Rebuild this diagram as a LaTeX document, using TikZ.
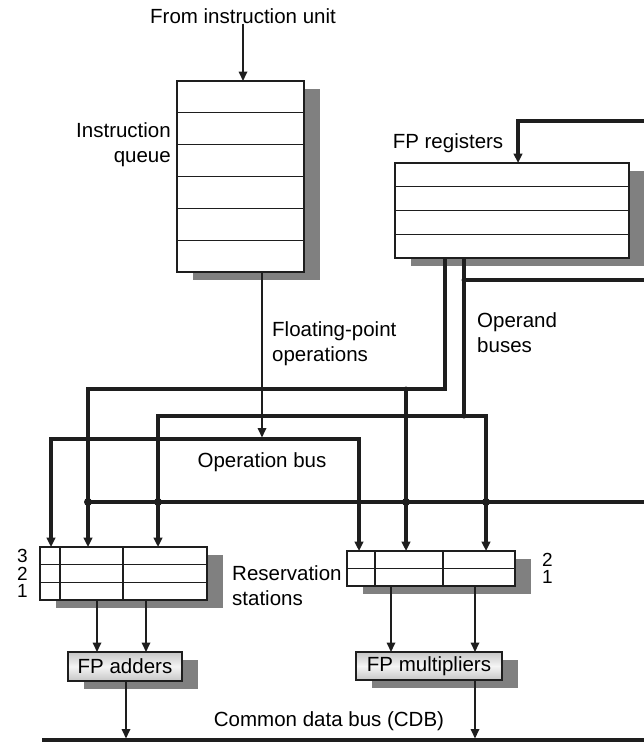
\documentclass[tikz,border=0pt]{standalone}
\usepackage{fontspec}
\setmainfont{Liberation Sans}
\usetikzlibrary{arrows.meta,calc,backgrounds}
\definecolor{ink}{HTML}{1E1E1E}
\definecolor{shadowc}{HTML}{808080}
\begin{document}
\begin{tikzpicture}[x=1pt,y=-1pt,
  font=\fontsize{20.5}{25}\selectfont,
  box/.style={draw=ink, line width=1.5pt, fill=white, inner sep=0pt, outer sep=0pt, anchor=north west},
  unitbox/.style={draw=ink, line width=1.5pt, inner sep=0pt, outer sep=0pt, anchor=north west,
     shading=axis, top color=gray!45, bottom color=gray!45, middle color=gray!8},
  rowline/.style={draw=ink, line width=1.3pt},
  bus/.style={draw=ink, line width=3.3pt},
  wire/.style={draw=ink, line width=1.7pt},
  tip/.style={-{Triangle[length=9.5pt,width=8.5pt]}},
  tips/.style={{Triangle[length=9.5pt,width=8.5pt]}-{Triangle[length=9.5pt,width=8.5pt]}},
  dot/.style={circle, fill=ink, inner sep=0pt, minimum size=8pt},
  knob/.style={circle, fill=ink, inner sep=0pt, minimum size=5pt},
  lbl/.style={inner sep=0pt, text=black},
  digit/.style={inner sep=0pt, text=black, font=\fontsize{19}{20}\selectfont}
]
\useasboundingbox (0,0) rectangle (644,742);

% boxes
\node[box, minimum width=127pt, minimum height=191pt] (iq) at (177,81) {};
\node[box, minimum width=234pt, minimum height=95pt] (fpr) at (395,163) {};
\node[box, minimum width=167pt, minimum height=53pt] (ars) at (40,547) {};
\node[box, minimum width=168pt, minimum height=35pt] (mrs) at (347,551) {};
\node[unitbox, minimum width=114pt, minimum height=29pt] (fpa) at (68,652) {FP adders};
\node[unitbox, minimum width=146pt, minimum height=28pt] (fpm) at (356,652) {FP multipliers};

\begin{scope}[on background layer]
  \foreach \n in {iq,fpr,ars,mrs,fpa,fpm}
    \fill[shadowc] ([shift={(16,8)}]\n.north west) rectangle ([shift={(16,8)}]\n.south east);
\end{scope}

% row and column lines
\foreach \k in {1,...,5}
  \draw[rowline] ($(iq.north west)!\k/6!(iq.south west)$) -- ($(iq.north east)!\k/6!(iq.south east)$);
\foreach \k in {1,2,3}
  \draw[rowline] ($(fpr.north west)!\k/4!(fpr.south west)$) -- ($(fpr.north east)!\k/4!(fpr.south east)$);
\foreach \k in {1,2}
  \draw[rowline] ($(ars.north west)!\k/3!(ars.south west)$) -- ($(ars.north east)!\k/3!(ars.south east)$);
\foreach \c in {20,83}
  \draw[rowline] ($(ars.north west)+(\c,0)$) -- ($(ars.south west)+(\c,0)$);
\draw[rowline] ($(mrs.north west)!0.5!(mrs.south west)$) -- ($(mrs.north east)!0.5!(mrs.south east)$);
\foreach \c in {28,96}
  \draw[rowline] ($(mrs.north west)+(\c,0)$) -- ($(mrs.south west)+(\c,0)$);

% labels
\node[lbl] (src) at (243,16) {From instruction unit};
\node[lbl, anchor=east, align=right] (iql) at (171,145) {Instruction\\queue};
\node[lbl] (fprl) at (448,143) {FP registers};
\node[lbl, anchor=west, align=left] (fpol) at (272,344) {Floating-point\\operations};
\node[lbl, anchor=west, align=left] (obl) at (477,333) {Operand\\buses};
\node[lbl] (opl) at (262,462) {Operation bus};
\node[lbl, anchor=west, align=left] (rsl) at (232,586) {Reservation\\stations};
\node[lbl] (cdbl) at (329,721) {Common data bus (CDB)};
\foreach \k/\t in {1/3,3/2,5/1}
  \node[digit, anchor=east] (ad\t) at ($(ars.north west)!\k/6!(ars.south west) + (-12,0)$) {\t};
\foreach \k/\t in {1/2,3/1}
  \node[digit, anchor=west] (md\t) at ($(mrs.north east)!\k/4!(mrs.south east) + (27,0)$) {\t};

% coordinates
\coordinate (fbin) at (644,121);
\coordinate (ob1) at ($(fpr.south west)+(50,0)$);
\coordinate (ob2) at ($(fpr.south west)+(69,0)$);
\coordinate (obr) at (644,280);
\coordinate (a1) at (88,389);
\coordinate (a2) at (158,416);
\coordinate (m1) at (406,389);
\coordinate (m2) at (486,416);
\coordinate (op1) at (51,439);
\coordinate (op2) at (359,439);
\coordinate (cdbr) at (644,502);
\coordinate (iqo) at ($(iq.south west)+(85,0)$);
\coordinate (ao1) at ($(ars.south west)+(57,0)$);
\coordinate (ao2) at ($(ars.south west)+(106,0)$);
\coordinate (mo1) at ($(mrs.south west)+(44,0)$);
\coordinate (mo2) at ($(mrs.south west)+(128,0)$);
\coordinate (fo1) at ($(fpa.south west)+(58,0)$);
\coordinate (fo2) at ($(fpm.south west)+(119,0)$);
\coordinate (cdbL) at (42,740);
\coordinate (cdbR) at (644,740);

% connectors
\draw[wire,tip] (src.south) -- (src.south |- iq.north);
\draw[bus,tip] (fbin) -| ($(fpr.north west)+(123,0)$);
\draw[bus] (ob2 |- obr) -- (obr);
\draw[bus,tip] (ob1) |- (a1) -- (a1 |- ars.north);
\draw[bus,tip] (ob2) |- (a2) -- (a2 |- ars.north);
\draw[bus,tip] (m1) -- (m1 |- mrs.north);
\draw[bus,tip] (ob2 |- m2) -- (m2) -- (m2 |- mrs.north);
\draw[bus,tips] (op1 |- ars.north) -- (op1) -- (op2) -- (op2 |- mrs.north);
\draw[wire,tip,shorten >=1.5pt] (iqo) -- (iqo |- op1);
\draw[bus] (a1 |- cdbr) -- (cdbr);
\node[dot] at (a1 |- cdbr) {};
\node[dot] at (a2 |- cdbr) {};
\node[dot] at (m1 |- cdbr) {};
\node[dot] at (m2 |- cdbr) {};
\node[knob] at (ob2 |- obr) {};
\node[knob] at (m1) {};
\node[knob] at (ob2 |- m2) {};
\draw[wire,tip] (ao1) -- (ao1 |- fpa.north);
\draw[wire,tip] (ao2) -- (ao2 |- fpa.north);
\draw[wire,tip] (mo1) -- (mo1 |- fpm.north);
\draw[wire,tip] (mo2) -- (mo2 |- fpm.north);
\draw[bus] (cdbL) -- (cdbR);
\draw[wire,tip,shorten >=1.5pt] (fo1) -- (fo1 |- cdbL);
\draw[wire,tip,shorten >=1.5pt] (fo2) -- (fo2 |- cdbL);
\end{tikzpicture}
\end{document}
